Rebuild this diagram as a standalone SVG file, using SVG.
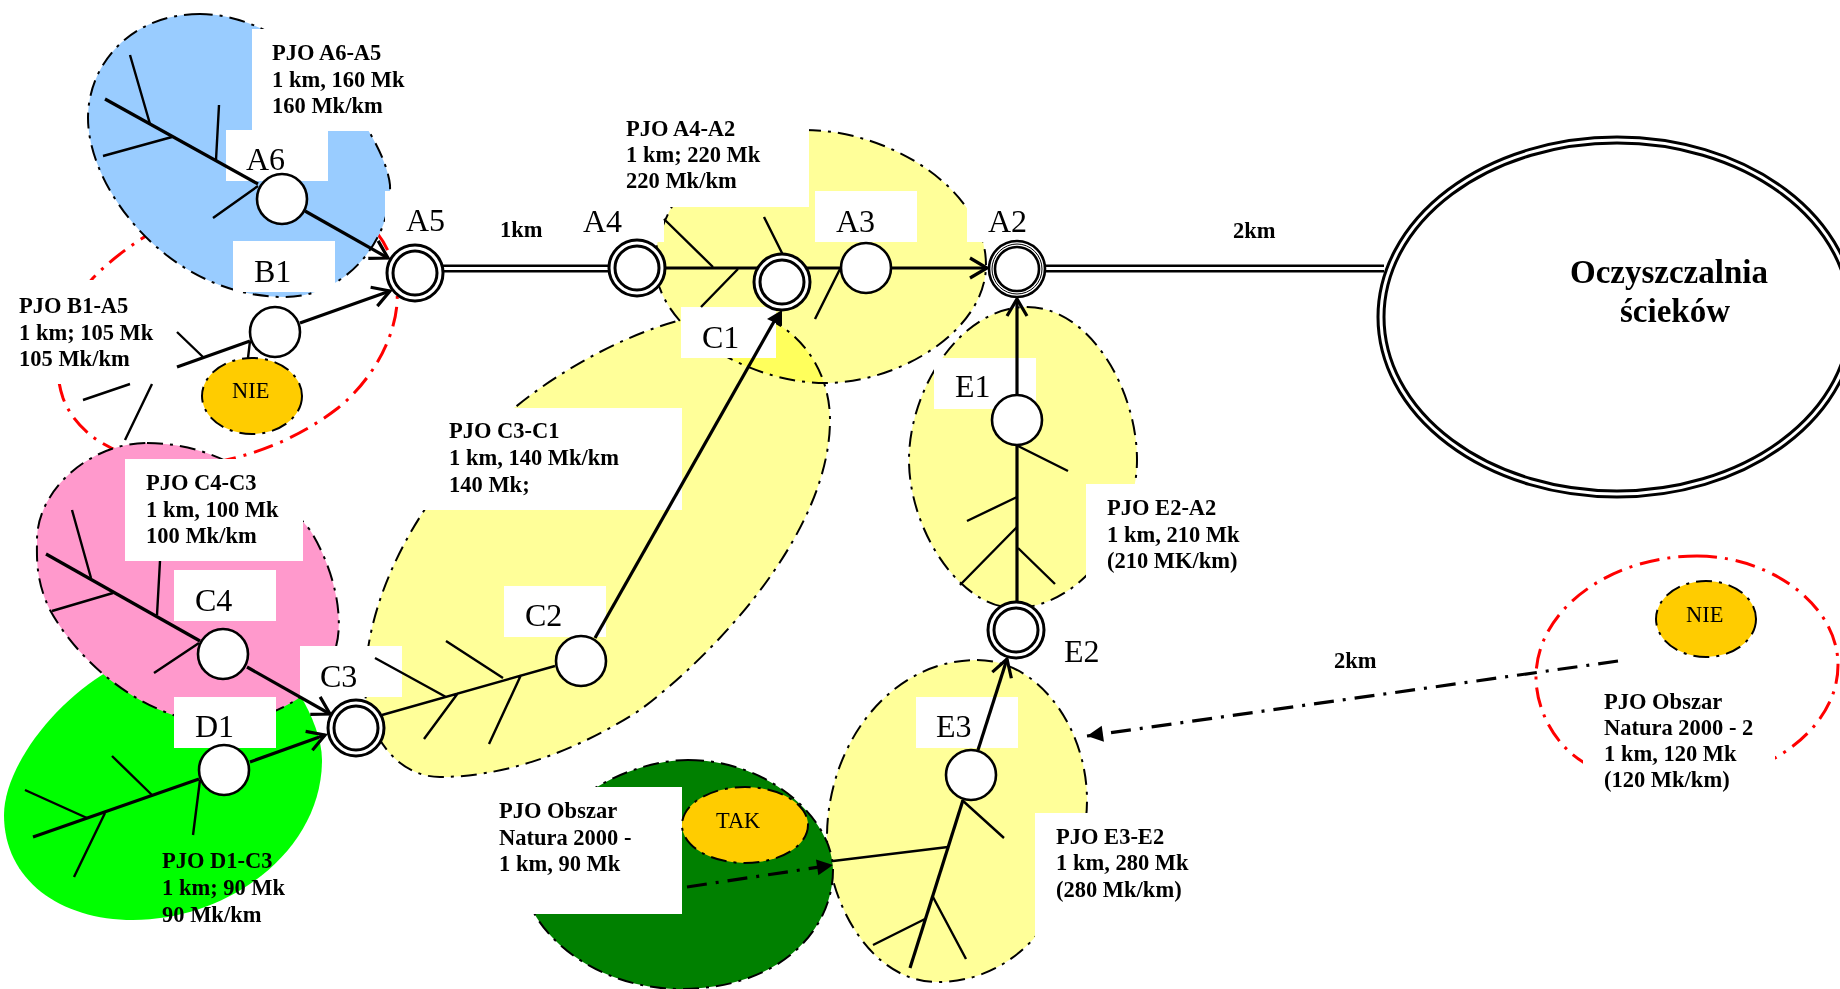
<svg xmlns="http://www.w3.org/2000/svg" width="1840" height="989" viewBox="0 0 1840 989">
<style>
text{font-family:"Liberation Serif","Times New Roman",serif;fill:#000}
.b{font-weight:bold;font-size:22.5px}
.l{font-size:32px}
.s{font-size:22.4px}
.r{stroke:#000;stroke-width:2;stroke-dasharray:16 7 3 7}
.w{fill:#fff;stroke:none}
.n{fill:#fff;stroke:#000;stroke-width:2.6}
.d{fill:#fff;stroke:#000;stroke-width:3}
.o{fill:#FFCC00;stroke:#000;stroke-width:2;stroke-dasharray:16 7 3 7}
.y{fill:#FFFF99}
.t{fill:none;stroke:#000;stroke-width:2.4}
.m{fill:none;stroke:#000;stroke-width:3.2}
.a{marker-end:url(#open)}
.f{marker-end:url(#solid);stroke-dasharray:20 9 3 9}
.red{fill:none;stroke:#FF0000;stroke-width:3;stroke-dasharray:20 8 3 8}
</style>
<defs>
<marker id="open" markerUnits="userSpaceOnUse" markerWidth="40" markerHeight="40" refX="0" refY="0" orient="auto" viewBox="-20 -20 40 40"><path d="M-17,-10 L0,0 L-17,10" fill="none" stroke="#000" stroke-width="3.2"/></marker>
<marker id="solid" markerUnits="userSpaceOnUse" markerWidth="40" markerHeight="40" refX="0" refY="0" orient="auto" viewBox="-20 -20 40 40"><path d="M-16,-8 L0,0 L-16,8Z" fill="#000"/></marker>
</defs>
<rect width="1840" height="989" fill="#fff"/>

<g id="region-B1"><path class="red" d="M230,200 C185,210 130,240 93,278 C60,315 50,360 63,398 C75,430 110,460 180,465 C230,465 290,445 338,408 C375,378 400,330 397,290 C395,260 385,240 370,225 C330,195 280,190 230,200Z"/></g>
<g id="region-A6"><path class="r" fill="#99CCFF" d="M200,14 C130,14 88,65 88,118 C88,190 170,297 285,297 C345,297 392,240 390,185 C385,135 300,14 200,14 Z"/></g>
<g id="region-D1"><path fill="#00FF00" d="M110,670 C50,705 4,770 4,815 C4,880 60,920 133,920 C230,920 322,850 322,760 C322,740 312,715 300,695 Z"/></g>
<g id="region-C4"><path class="r" fill="#FF99CC" d="M147,443 C215,443 270,480 310,530 C335,570 345,620 335,650 C325,690 280,717 225,724 C150,724 80,665 50,610 C35,580 37,555 37,540 C37,490 90,443 147,443Z"/></g>
<g id="region-A4"><path class="r y" d="M805,130 C890,130 986,190 986,265 C986,330 900,383 825,383 C750,383 655,330 655,262 C655,220 700,130 805,130Z"/></g>
<g id="region-C2"><path class="r y" style="mix-blend-mode:multiply" d="M735,312 C785,312 830,360 830,420 C830,530 720,650 640,710 C570,755 500,777 440,777 C395,777 363,730 365,680 C368,590 420,500 490,430 C550,370 660,312 735,312Z"/></g>
<g id="region-E1"><path class="r y" d="M1027,307 C1090,307 1137,390 1137,460 C1137,530 1080,608 1015,608 C960,608 909,530 909,460 C909,390 960,307 1027,307Z"/></g>
<g id="region-E3"><path class="r y" d="M977,660 C1040,660 1087,730 1087,800 C1087,870 1040,982 937,982 C870,982 827,900 827,837 C827,745 890,660 977,660 Z"/></g>
<g id="region-natura"><path class="r" fill="#008000" d="M688,760 C770,760 833,820 833,870 C833,930 780,989 680,989 C610,989 550,950 530,905 C520,860 550,810 597,787 C625,770 660,760 688,760Z"/></g>
<g id="region-natura2"><path class="red" d="M1697,556 C1770,556 1838,605 1838,665 C1838,705 1810,738 1775,758 C1720,790 1630,795 1583,762 C1555,745 1536,710 1536,677 C1536,610 1610,556 1697,556 Z"/></g>

<g id="label-backgrounds">
<rect class="w" x="252" y="29" width="160" height="102"/>
<rect class="w" x="226" y="130" width="102" height="51"/>
<rect class="w" x="233" y="241" width="102" height="51"/>
<rect class="w" x="385" y="191" width="102" height="51"/>
<rect class="w" x="0" y="280" width="178" height="104"/>
<rect class="w" x="125" y="459" width="178" height="102"/>
<rect class="w" x="174" y="570" width="102" height="51"/>
<rect class="w" x="174" y="697" width="102" height="51"/>
<rect class="w" x="300" y="646" width="102" height="51"/>
<rect class="w" x="420" y="408" width="262" height="102"/>
<rect class="w" x="504" y="586" width="102" height="51"/>
<rect class="w" x="610" y="100" width="199" height="107"/>
<rect class="w" x="562" y="191" width="102" height="51"/>
<rect class="w" x="815" y="191" width="102" height="51"/>
<rect class="w" x="967" y="191" width="102" height="51"/>
<rect class="w" x="681" y="307" width="95" height="51"/>
<rect class="w" x="934" y="358" width="102" height="51"/>
<rect class="w" x="1086" y="484" width="200" height="100"/>
<rect class="w" x="916" y="697" width="102" height="51"/>
<rect class="w" x="1035" y="813" width="180" height="140"/>
<rect class="w" x="480" y="787" width="202" height="127"/>
<rect class="w" x="1583" y="745" width="192" height="60"/>
</g>

<g id="ellipse-TAK"><ellipse class="o" cx="745" cy="825" rx="63" ry="38"/><text class="s" x="716" y="828">TAK</text></g>
<g id="ellipse-NIE-1"><ellipse class="o" cx="252" cy="396" rx="50" ry="38"/><text class="s" x="232" y="398">NIE</text></g>
<g id="ellipse-NIE-2"><ellipse class="o" cx="1706" cy="619" rx="50" ry="38"/><text class="s" x="1686" y="622">NIE</text></g>

<g id="connectors">
<path d="M443,268.5H610M1045,268.5H1384" fill="none" stroke="#000" stroke-width="8"/>
<path d="M443,268.5H610M1045,268.5H1384" fill="none" stroke="#fff" stroke-width="3"/>

<path class="m" d="M105,99L258,184"/>
<path class="t" d="M130,55L150,124M103,156L172,137M219,105L216,160M213,218L258,186"/>
<path class="m a" d="M305,211L388,258"/>

<path class="m" d="M177,367L250,341"/>
<path class="t" d="M177,332L203,357M250,341L248,358M83,400L130,384M125,440L152,384"/>
<path class="m a" d="M300,323L390,291"/>

<path class="m" d="M46,554L200,641"/>
<path class="t" d="M72,510L91,578M52,611L113,593M160,561L157,615M154,673L199,643"/>
<path class="m a" d="M247,667L330,714"/>

<path class="m" d="M33,837L199,779"/>
<path class="t" d="M25,790L87,818M112,756L152,795M105,813L74,877M200,780L193,835"/>
<path class="m a" d="M250,762L325,735"/>

<path class="t" d="M382,715L555,666M375,658L446,697M446,641L503,678M458,693L424,739M521,675L489,744"/>
<path d="M595,638L776,318" class="m"/>
<path d="M782,310L767,319L782,326Z" fill="#000"/>

<path class="m" d="M664,268H842"/>
<path class="t" d="M664,219L713,267M738,269L701,307M764,217L783,255M840,269L815,319"/>
<path class="m a" d="M891,268H987"/>

<path class="m a" d="M1017,395V299"/>
<path class="m" d="M1017,445V603"/>
<path class="t" d="M1018,446L1068,471M1017,497L967,521M1017,527L960,585M1018,548L1055,584"/>

<path class="m a" d="M978,750L1007,659"/>
<path class="m" d="M963,800L910,968"/>
<path class="t" d="M962,800L1004,838M948,847L833,861M925,919L873,945M933,897L966,959"/>

<path class="m f" d="M1618,661L1087,736"/>
<path class="m f" d="M687,887L833,865"/>
</g>

<g id="node-A6"><circle class="n" cx="282" cy="199" r="25"/><text class="l" x="246" y="170">A6</text></g>
<g id="node-B1"><circle class="n" cx="275" cy="332" r="25"/><text class="l" x="254" y="282">B1</text></g>
<g id="node-A5"><circle class="d" cx="415" cy="273" r="28"/><circle class="d" cx="415" cy="273" r="22"/><text class="l" x="406" y="231">A5</text></g>
<g id="node-A4"><circle class="d" cx="637" cy="268" r="28"/><circle class="d" cx="637" cy="268" r="22"/><text class="l" x="583" y="232">A4</text></g>
<g id="node-C1"><circle class="d" cx="782" cy="282" r="28"/><circle class="d" cx="782" cy="282" r="22"/><text class="l" x="702" y="348">C1</text></g>
<g id="node-A3"><circle class="n" cx="866" cy="268" r="25"/><text class="l" x="836" y="232">A3</text></g>
<g id="node-A2"><circle cx="1017" cy="269" r="28" fill="#fff" stroke="#000" stroke-width="2.6"/><circle cx="1017" cy="269" r="25" fill="#fff" stroke="#000" stroke-width="1"/><circle cx="1017" cy="269" r="22" fill="#fff" stroke="#000" stroke-width="2.6"/><text class="l" x="988" y="232">A2</text></g>
<g id="node-C4"><circle class="n" cx="223" cy="654" r="25"/><text class="l" x="195" y="611">C4</text></g>
<g id="node-D1"><circle class="n" cx="224" cy="770" r="25"/><text class="l" x="195" y="737">D1</text></g>
<g id="node-C3"><circle class="d" cx="356" cy="728" r="28"/><circle class="d" cx="356" cy="728" r="22"/><text class="l" x="320" y="687">C3</text></g>
<g id="node-C2"><circle class="n" cx="581" cy="661" r="25"/><text class="l" x="525" y="626">C2</text></g>
<g id="node-E1"><circle class="n" cx="1017" cy="420" r="25"/><text class="l" x="955" y="397">E1</text></g>
<g id="node-E2"><circle class="d" cx="1016" cy="630" r="28"/><circle class="d" cx="1016" cy="630" r="22"/><text class="l" x="1064" y="662">E2</text></g>
<g id="node-E3"><circle class="n" cx="971" cy="775" r="25"/><text class="l" x="936" y="737">E3</text></g>
<g id="node-plant">
<ellipse cx="1617" cy="317" rx="239" ry="180" fill="#fff" stroke="#000" stroke-width="3"/>
<ellipse cx="1617" cy="317" rx="233" ry="174" fill="#fff" stroke="#000" stroke-width="3"/>
<text font-size="33" font-weight="bold" x="1570" y="283">Oczyszczalnia</text>
<text font-size="33" font-weight="bold" x="1620" y="322">ścieków</text>
</g>

<g id="labels" class="b">
<text class="b" x="272" y="60">PJO A6-A5</text><text class="b" x="272" y="86.5">1 km, 160 Mk</text><text class="b" x="272" y="113">160 Mk/km</text>
<text class="b" x="19" y="313">PJO B1-A5</text><text class="b" x="19" y="339.5">1 km; 105 Mk</text><text class="b" x="19" y="366">105 Mk/km</text>
<text class="b" x="146" y="490">PJO C4-C3</text><text class="b" x="146" y="516.5">1 km, 100 Mk</text><text class="b" x="146" y="543">100 Mk/km</text>
<text class="b" x="162" y="868">PJO D1-C3</text><text class="b" x="162" y="895">1 km; 90 Mk</text><text class="b" x="162" y="922">90 Mk/km</text>
<text class="b" x="449" y="438">PJO C3-C1</text><text class="b" x="449" y="465">1 km, 140 Mk/km</text><text class="b" x="449" y="492">140 Mk;</text>
<text class="b" x="626" y="136">PJO A4-A2</text><text class="b" x="626" y="162">1 km; 220 Mk</text><text class="b" x="626" y="188">220 Mk/km</text>
<text class="b" x="1107" y="515">PJO E2-A2</text><text class="b" x="1107" y="542">1 km, 210 Mk</text><text class="b" x="1107" y="568">(210 MK/km)</text>
<text class="b" x="1056" y="844">PJO E3-E2</text><text class="b" x="1056" y="870">1 km, 280 Mk</text><text class="b" x="1056" y="897">(280 Mk/km)</text>
<text class="b" x="499" y="818">PJO Obszar</text><text class="b" x="499" y="845">Natura 2000 -</text><text class="b" x="499" y="871">1 km, 90 Mk</text>
<text class="b" x="1604" y="709">PJO Obszar</text><text class="b" x="1604" y="735">Natura 2000 - 2</text><text class="b" x="1604" y="761">1 km, 120 Mk</text><text class="b" x="1604" y="787">(120 Mk/km)</text>
<text class="b" x="500" y="237">1km</text>
<text class="b" x="1233" y="238">2km</text>
<text class="b" x="1334" y="668">2km</text>
</g>
</svg>
